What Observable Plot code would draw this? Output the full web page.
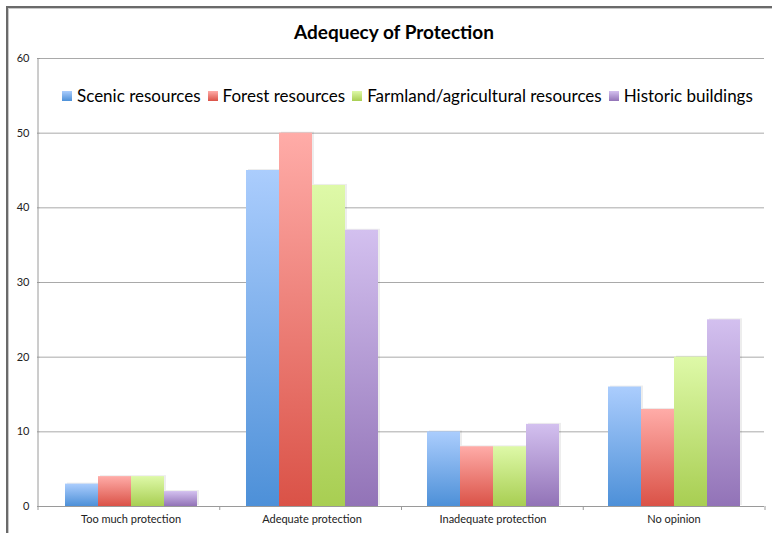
<!DOCTYPE html>
<html>
<head>
<meta charset="utf-8">
<script src="https://cdn.jsdelivr.net/npm/d3@7"></script>
<script src="https://cdn.jsdelivr.net/npm/@observablehq/plot@0.6"></script>
<style>
  html, body { margin: 0; padding: 0; background: #fff; }
  #wrap { position: relative; width: 772px; height: 533px; overflow: hidden; font-family: Lato, "Open Sans", sans-serif; }
  #frame { position: absolute; left: 6px; top: 6px; right: -10px; bottom: -10px; border-top: 2px solid #6a6a6a; border-left: 2px solid #6a6a6a; box-shadow: inset 1px 1px 0 #c8c8c8; }
  #title { position: absolute; left: 0; width: 788px; top: 20px; text-align: center; font-weight: bold; font-size: 19px; color: #000; }
  #legend { position: absolute; left: 62px; top: 85px; display: flex; align-items: center; font-size: 17px; color: #000; white-space: nowrap; }
  #legend .item { display: flex; align-items: center; margin-right: 7px; }
  #legend .sw { width: 10px; height: 10px; margin-right: 5px; }
  #chart { position: absolute; left: 0; top: 0; }
</style>
</head>
<body>
<div id="wrap">
  <div id="frame"></div>
  <div id="chart"></div>
  <div id="title"></div>
  <div id="legend"></div>
</div>
<script>
const title = "Adequecy of Protection";
const categories = ["Too much protection", "Adequate protection", "Inadequate protection", "No opinion"];
const series = ["Scenic resources", "Forest resources", "Farmland/agricultural resources", "Historic buildings"];
const scenic = [3, 45, 10, 16];
const forest = [4, 50, 8, 13];
const farmland = [4, 43, 8, 20];
const historic = [2, 37, 11, 25];
const yTicks = [0, 10, 20, 30, 40, 50, 60];
const gradTop = ["#abcdfd", "#ffaca8", "#def9a8", "#d3c0ef"];
const gradBottom = ["#4d90d8", "#da5247", "#a8ce52", "#9273b7"];

const valuesBySeries = [scenic, forest, farmland, historic];
const rows = [];
categories.forEach((c, i) => series.forEach((s, j) => rows.push({category: c, series: s, value: valuesBySeries[j][i], gid: "grad" + j})));

const chart = Plot.plot({
  width: 772,
  height: 533,
  marginLeft: 38,
  marginRight: 7,
  marginTop: 58,
  marginBottom: 27,
  style: {fontFamily: "Lato, 'Open Sans', sans-serif", fontSize: "11px", color: "#222", background: "transparent", overflow: "visible"},
  fx: {domain: categories, paddingInner: 0, paddingOuter: 0, label: null},
  x: {domain: series, paddingInner: 0, paddingOuter: 0.73, axis: null},
  y: {domain: [0, 60], label: null},
  color: {type: "identity"},
  marks: [
    Plot.gridY(yTicks, {stroke: "#a9a9a9", strokeOpacity: 1}),
    Plot.barY(rows, {fx: "category", x: "series", y: "value", fill: "#000", fillOpacity: 0.07, dx: 2, dy: -1}),
    Plot.barY(rows, {fx: "category", x: "series", y: "value", fill: d => `url(#${d.gid})`}),
    Plot.ruleY([0], {stroke: "#9a9a9a"}),
    Plot.axisY(yTicks, {tickSize: 3, tickPadding: 8, stroke: "#9a9a9a", fontSize: 11, label: null}),
    Plot.axisFx({anchor: "bottom", tickSize: 0, tickPadding: 9, fontSize: 11, label: null})
  ]
});

document.getElementById("chart").appendChild(chart);
const svg = d3.select(chart);
const defs = svg.insert("defs", ":first-child");
series.forEach((s, j) => {
  const g = defs.append("linearGradient").attr("id", "grad" + j).attr("x1", 0).attr("y1", 0).attr("x2", 0).attr("y2", 1);
  g.append("stop").attr("offset", "0%").attr("stop-color", gradTop[j]);
  g.append("stop").attr("offset", "100%").attr("stop-color", gradBottom[j]);
});

// axis line and category boundary ticks through Plot's scales
const fx = chart.scale("fx");
const y = chart.scale("y");
const fxScale = d3.scaleBand(fx.domain, fx.range).paddingInner(fx.paddingInner || 0).paddingOuter(fx.paddingOuter || 0);
const yScale = d3.scaleLinear(y.domain, y.range);
const y0 = yScale(0), yTop = yScale(60);
const x0 = fxScale(categories[0]);
svg.append("line").attr("x1", x0).attr("x2", x0).attr("y1", yTop).attr("y2", y0 + 0.5).attr("stroke", "#9a9a9a");
const bounds = categories.map(c => fxScale(c)).concat([fxScale(categories[categories.length - 1]) + fxScale.bandwidth()]);
svg.append("g").selectAll("line").data(bounds).join("line")
  .attr("x1", d => d).attr("x2", d => d).attr("y1", y0).attr("y2", y0 + 4).attr("stroke", "#9a9a9a");

document.getElementById("title").textContent = title;
const legend = d3.select("#legend");
series.forEach((s, j) => {
  const it = legend.append("div").attr("class", "item");
  it.append("div").attr("class", "sw").style("background", `linear-gradient(${gradTop[j]}, ${gradBottom[j]})`);
  it.append("span").text(s);
});
</script>
</body>
</html>
